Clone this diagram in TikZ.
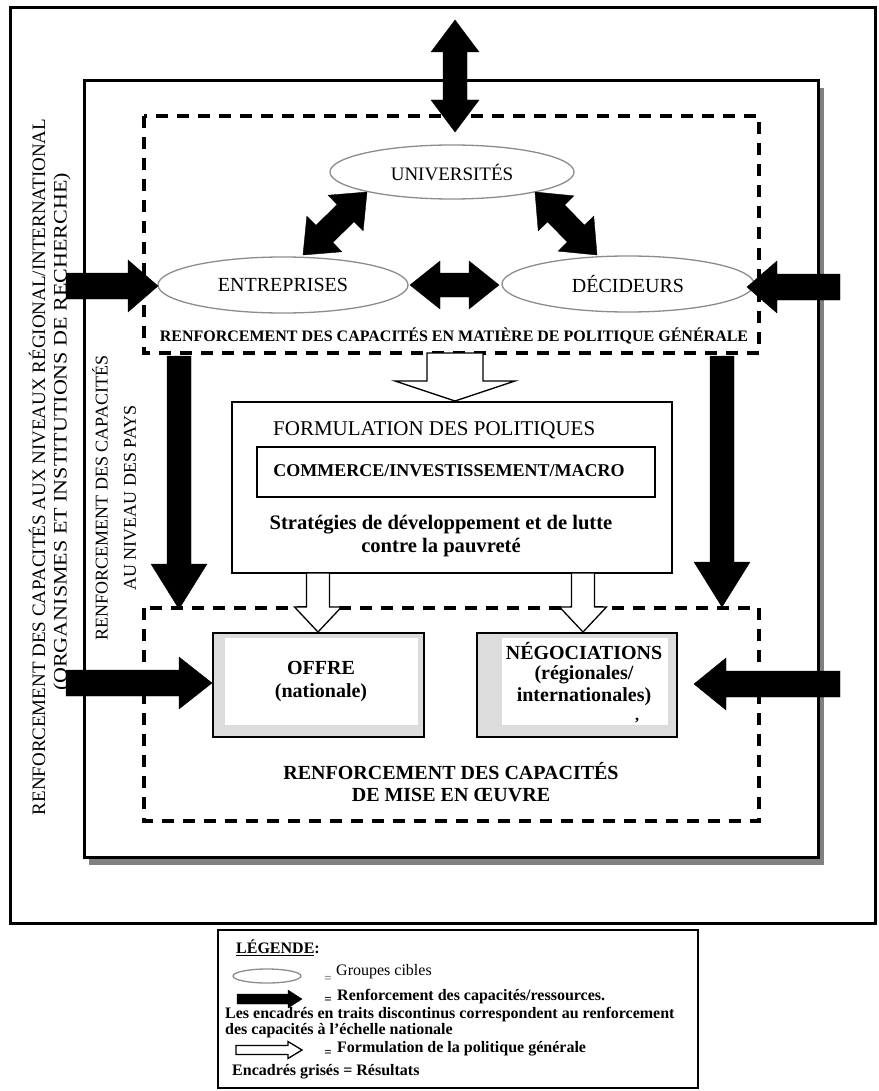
\documentclass[tikz,border=0pt]{standalone}
\usepackage{fontspec}
\usepackage{graphicx}
\setmainfont{Liberation Serif}
\usetikzlibrary{shapes.geometric}
\newcommand{\fs}[1]{\fontsize{#1}{#1}\selectfont}
\definecolor{ellgray}{HTML}{8C8C8C}
\definecolor{shadowgray}{HTML}{808080}
\definecolor{resgray}{HTML}{DCDCDC}
% single block arrow between two named coordinates
\newcommand{\blockarrow}[6]{%
  \path (#2); \pgfgetlastxy{\bax}{\bay}%
  \path (#3); \pgfgetlastxy{\bbx}{\bby}%
  \pgfmathsetmacro\baang{atan2(\bby-\bay,\bbx-\bax)}%
  \pgfmathsetmacro\balen{veclen(\bbx-\bax,\bby-\bay)}%
  \pgfmathsetmacro\babase{\balen-#6}%
  \draw[#1, shift={(\bax,\bay)}, rotate=\baang]
    (0pt,-#4pt) -- (\babase pt,-#4pt) -- (\babase pt,-#5pt) -- (\balen pt,0pt)
    -- (\babase pt,#5pt) -- (\babase pt,#4pt) -- (0pt,#4pt) -- cycle;}
% double block arrow
\newcommand{\dblockarrow}[6]{%
  \path (#2); \pgfgetlastxy{\bax}{\bay}%
  \path (#3); \pgfgetlastxy{\bbx}{\bby}%
  \pgfmathsetmacro\baang{atan2(\bby-\bay,\bbx-\bax)}%
  \pgfmathsetmacro\balen{veclen(\bbx-\bax,\bby-\bay)}%
  \pgfmathsetmacro\babase{\balen-#6}%
  \draw[#1, shift={(\bax,\bay)}, rotate=\baang]
    (0pt,0pt) -- (#6pt,-#5pt) -- (#6pt,-#4pt) -- (\babase pt,-#4pt) -- (\babase pt,-#5pt)
    -- (\balen pt,0pt) -- (\babase pt,#5pt) -- (\babase pt,#4pt) -- (#6pt,#4pt)
    -- (#6pt,#5pt) -- cycle;}
\begin{document}
\begin{tikzpicture}[x=1pt,y=-1pt,line join=miter,
  blk/.style={fill=black,draw=black,line width=0.4pt},
  wht/.style={fill=white,draw=black,line width=1.3pt},
  grp/.style={ellipse,draw=ellgray,fill=white,line width=1.3pt,inner sep=0pt},
  dashbox/.style={draw,line width=3.5pt,dash pattern=on 12pt off 9pt},
  frame/.style={draw,line width=3pt},
  lbl/.style={inner sep=0pt},
  blbl/.style={inner sep=0pt,font=\bfseries\fontsize{20}{22}\selectfont,align=center},
  leg/.style={inner sep=0pt,anchor=west,font=\bfseries\fs{16}}]
\useasboundingbox (0,0) rectangle (878,1091);
\fill[white] (0,0) rectangle (878,1091);

% frames
\draw[frame] (10,8) rectangle (875,923);
\fill[shadowgray] (89,88) rectangle (824,865);
\draw[frame,fill=white] (84,81) rectangle (818,857);
\draw[dashbox] (144,116) rectangle (759,353);
\draw[dashbox] (144,608) rectangle (759,821);

% left rotated texts
\node[lbl,rotate=90,font=\fs{19}] (lvl1) at (37,467) {RENFORCEMENT DES CAPACITÉS AUX NIVEAUX RÉGIONAL/INTERNATIONAL};
\node[lbl,rotate=90,font=\fs{19}] (lvl2) at (62,432) {\scalebox{1.16}[1]{(ORGANISMES ET INSTITUTIONS DE RECHERCHE)}};
\node[lbl,rotate=90,font=\fs{18}] (pays1) at (100,498) {RENFORCEMENT DES CAPACITÉS};
\node[lbl,rotate=90,font=\fs{18}] (pays2) at (130,498) {AU NIVEAU DES PAYS};

% target groups
\node[grp,minimum width=244,minimum height=54,font=\fs{19}] (univ) at (452,172) {UNIVERSITÉS};
\node[grp,minimum width=250,minimum height=56,font=\fs{20}] (entr) at (283,285) {ENTREPRISES};
\node[grp,minimum width=252,minimum height=56,font=\fs{20}] (deci) at (628,284) {DÉCIDEURS};
\node[lbl,font=\bfseries\fs{16}] (polgen) at (454,336) {RENFORCEMENT DES CAPACITÉS EN MATIÈRE DE POLITIQUE GÉNÉRALE};

% policy formulation
\draw[frame,line width=2.5pt] (232,402) rectangle (672,573);
\node[lbl,anchor=west,font=\fs{21}] (formt) at (273,430) {FORMULATION DES POLITIQUES};
\node[draw,line width=1.5pt,minimum width=398,minimum height=50,inner sep=0pt] (cim) at (456,472) {};
\node[lbl,font=\bfseries\fs{18}] (cimt) at (449,471) {COMMERCE/INVESTISSEMENT/MACRO};
\node[blbl,font=\bfseries\fontsize{20.6}{22.5}\selectfont] (strat) at (441,536) {Stratégies de développement et de lutte\\contre la pauvreté};

% results
\draw[line width=1.5pt,fill=resgray] (213,633) rectangle (424,737);
\fill[white] (225,638) rectangle (418,725);
\node[blbl] (offre) at (321,668) {OFFRE};
\node[blbl] (offre2) at (321,693) {(nationale)};
\draw[line width=1.5pt,fill=resgray] (477,633) rectangle (677,737);
\fill[white] (502,638) rectangle (668,725);
\node[blbl] (nego) at (584,651) {NÉGOCIATIONS};
\node[blbl] (nego2) at (584,675) {(régionales/};
\node[blbl] (nego3) at (584,697) {internationales)};
\node[lbl,font=\bfseries\fs{16}] (comma) at (637,721) {,};
\node[blbl] (mise) at (451,782) {RENFORCEMENT DES CAPACITÉS\\DE MISE EN ŒUVRE};

% arrow end points
\coordinate (tA) at (455,20);   \coordinate (tB) at (455,132);
\coordinate (dlA) at (303,255); \coordinate (dlB) at (367,192);
\coordinate (drA) at (535,192); \coordinate (drB) at (597,255);
\coordinate (hA) at (410,285);  \coordinate (hB) at (499,285);
\coordinate (l1A) at (66,286);  \coordinate (l1B) at (158,286);
\coordinate (l2A) at (66,683);  \coordinate (l2B) at (212,683);
\coordinate (r1A) at (840,287); \coordinate (r1B) at (747,287);
\coordinate (r2A) at (840,684); \coordinate (r2B) at (694,684);
\coordinate (vlA) at (179,356); \coordinate (vlB) at (179,609);
\coordinate (vrA) at (722,356); \coordinate (vrB) at (722,607);
\coordinate (wcA) at (455,353); \coordinate (wcB) at (455,401);
\coordinate (wlA) at (318,573); \coordinate (wlB) at (318,632);
\coordinate (wrA) at (583,573); \coordinate (wrB) at (583,632);

\dblockarrow{blk}{tA}{tB}{12}{24}{32}
\dblockarrow{blk}{dlA}{dlB}{12}{25}{30}
\dblockarrow{blk}{drA}{drB}{12}{25}{30}
\dblockarrow{blk}{hA}{hB}{12}{24}{30}
\blockarrow{blk}{l1A}{l1B}{13}{26}{30}
\blockarrow{blk}{l2A}{l2B}{13}{26}{33}
\blockarrow{blk}{r1A}{r1B}{13}{26}{30}
\blockarrow{blk}{r2A}{r2B}{13}{26}{32}
\blockarrow{blk}{vlA}{vlB}{12}{28}{45}
\blockarrow{blk}{vrA}{vrB}{12}{28}{45}
\blockarrow{wht}{wcA}{wcB}{28}{60}{20}
\blockarrow{wht}{wlA}{wlB}{11.5}{23.5}{25}
\blockarrow{wht}{wrA}{wrB}{11.5}{23.5}{25}

% legend
\draw[line width=1.5pt] (218,930) rectangle (698,1088);
\node[leg] (legt) at (236,948) {\underline{LÉGENDE}:};
\node[grp,minimum width=68,minimum height=14] (legell) at (267,976) {};
\node[lbl,font=\bfseries\fs{13},text=gray] (eq1) at (328,979) {=};
\node[leg,font=\fs{16}] (leg1) at (336,972) {Groupes cibles};
\coordinate (lbA) at (237,999); \coordinate (lbB) at (302,999);
\blockarrow{blk}{lbA}{lbB}{5}{9}{14}
\node[lbl,font=\bfseries\fs{13}] (eq2) at (328,1000) {=};
\node[leg] (leg2) at (337,997) {Renforcement des capacités/ressources.};
\node[leg] (leg3) at (225,1015) {Les encadrés en traits discontinus correspondent au renforcement};
\node[leg] (leg4) at (225,1031) {des capacités à l’échelle nationale};
\coordinate (lwA) at (236,1050); \coordinate (lwB) at (302,1050);
\blockarrow{wht}{lwA}{lwB}{4.5}{8.5}{14}
\node[lbl,font=\bfseries\fs{13}] (eq3) at (328,1053) {=};
\node[leg] (leg5) at (337,1049) {Formulation de la politique générale};
\node[leg] (leg6) at (232,1072) {Encadrés grisés = Résultats};
\end{tikzpicture}
\end{document}
